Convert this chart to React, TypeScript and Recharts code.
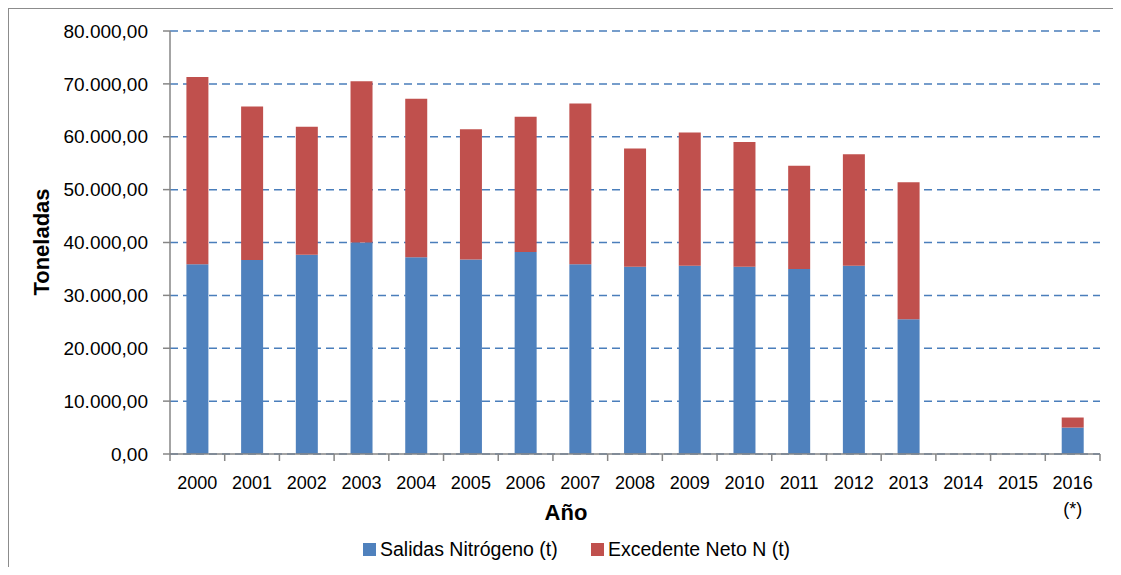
import { BarChart, Bar, XAxis, YAxis, CartesianGrid } from "recharts";

const years = ["2000", "2001", "2002", "2003", "2004", "2005", "2006", "2007", "2008", "2009", "2010", "2011", "2012", "2013", "2014", "2015", "2016\n(*)"];
const salidas = [35900, 36700, 37700, 40000, 37200, 36800, 38200, 35900, 35400, 35600, 35400, 35000, 35600, 25500, null, null, 5000];
const excedente = [35400, 29000, 24200, 30500, 30000, 24600, 25600, 30400, 22400, 25200, 23600, 19500, 21100, 25900, null, null, 1900];
const yTicks = [0, 10000, 20000, 30000, 40000, 50000, 60000, 70000, 80000];

const data = years.map((y, i) => ({ year: y, salidas: salidas[i], excedente: excedente[i] }));

const FONT = "'Liberation Sans', Arial, sans-serif";
const AXIS = "#868686";
const BLUE = "#4F81BD";
const RED = "#C0504D";

const fmt = (v: number) => {
  const s = Math.round(v).toString().replace(/\B(?=(\d{3})+(?!\d))/g, ".");
  return s + ",00";
};

const XTick = (props: any) => {
  const { x, y, payload, index } = props;
  const half = payload && payload.offset ? payload.offset : 27.35;
  const lines = String(payload.value).split("\n");
  return (
    <g>
      <line x1={x - half} x2={x - half} y1={y} y2={y + 7} stroke={AXIS} strokeWidth={1.5} />
      {index === years.length - 1 && (
        <line x1={x + half} x2={x + half} y1={y} y2={y + 7} stroke={AXIS} strokeWidth={1.5} />
      )}
      {lines.map((l, i) => (
        <text key={i} x={x} y={y + 35 + i * 26} textAnchor="middle" fontSize={18} fill="#000" fontFamily={FONT}>
          {l}
        </text>
      ))}
    </g>
  );
};

export default function App() {
  return (
    <div
      style={{
        position: "relative",
        width: 1104,
        height: 558,
        borderTop: "1px solid #8c8c8c",
        borderLeft: "1px solid #8c8c8c",
        background: "#fff",
        fontFamily: FONT,
      }}
    >
      <BarChart
        width={1104}
        height={558}
        data={data}
        margin={{ top: 22, right: 13, left: 30, bottom: 53 }}
        barCategoryGap="30%"
        style={{ fontFamily: FONT }}
      >
        <CartesianGrid vertical={false} stroke="#4A7EBB" strokeDasharray="8 5" strokeWidth={1.5} />
        <XAxis
          dataKey="year"
          interval={0}
          tickLine={false}
          tickSize={0}
          tickMargin={0}
          height={60}
          axisLine={{ stroke: AXIS, strokeWidth: 1.5 }}
          tick={<XTick />}
          label={{
            content: () => (
              <text x={557} y={511} textAnchor="middle" fontSize={22} fontWeight="bold" fill="#000" fontFamily={FONT}>
                Año
              </text>
            ),
          }}
        />
        <YAxis
          width={131}
          domain={[0, 80000]}
          ticks={yTicks}
          interval={0}
          tickFormatter={fmt}
          tickSize={7}
          tickMargin={15}
          tick={{ fontSize: 19, fill: "#000", fontFamily: FONT }}
          axisLine={{ stroke: AXIS, strokeWidth: 1.5 }}
          tickLine={{ stroke: AXIS, strokeWidth: 1.5 }}
          label={{
            content: () => (
              <text
                x={32}
                y={233}
                transform="rotate(-90 32 233)"
                textAnchor="middle"
                dominantBaseline="central"
                fontSize={22}
                fontWeight="bold"
                fill="#000"
                fontFamily={FONT}
              >
                Toneladas
              </text>
            ),
          }}
        />
        <Bar dataKey="salidas" name="Salidas Nitrógeno (t)" stackId="a" fill={BLUE} isAnimationActive={false} />
        <Bar dataKey="excedente" name="Excedente Neto N (t)" stackId="a" fill={RED} isAnimationActive={false} />
      </BarChart>
      <div style={{ position: "absolute", left: 354, top: 534, width: 13, height: 13, background: BLUE }} />
      <div style={{ position: "absolute", left: 371, top: 529, fontSize: 19.5, lineHeight: "22px", color: "#000", whiteSpace: "nowrap" }}>
        Salidas Nitrógeno (t)
      </div>
      <div style={{ position: "absolute", left: 582, top: 534, width: 13, height: 13, background: RED }} />
      <div style={{ position: "absolute", left: 599, top: 529, fontSize: 19.5, lineHeight: "22px", color: "#000", whiteSpace: "nowrap" }}>
        Excedente Neto N (t)
      </div>
    </div>
  );
}
